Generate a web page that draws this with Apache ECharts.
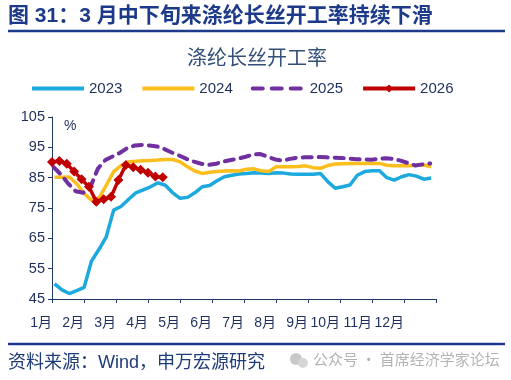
<!DOCTYPE html>
<html>
<head>
<meta charset="utf-8">
<script src="https://cdn.jsdelivr.net/npm/echarts@6/dist/echarts.min.js"></script>
<style>
html,body{margin:0;padding:0;background:#fff;}
#c{width:511px;height:380px;}
</style>
</head>
<body>
<div id="c"></div>
<script>
const monthLabels = ['1月','2月','3月','4月','5月','6月','7月','8月','9月','10月','11月','12月'];
const seriesNames = ['2023','2024','2025','2026'];
const v2023 = [50,48,46.8,47.8,48.8,57.5,61.3,65.5,74.3,75.5,77.8,80,81,82,83.3,82.5,80,78.2,78.5,80,82,82.4,84,85.3,85.8,86.2,86.4,86.6,86.5,86.4,86.6,86.5,86.2,86.1,86.1,86.1,86.4,83.7,81.5,82,82.6,85.8,87,87.3,87.3,85,84.2,85.3,86,85.5,84.5,84.9];
const v2024 = [85.1,85.1,85.2,83,79.8,77.6,78.2,82.5,87,89,90.2,90.4,90.6,90.7,90.8,91,91,90.2,88.6,87.2,86.4,86.8,87,87.2,87.3,87.2,87.8,87.9,87.3,87,88.6,88.6,88.6,88.7,88.9,88.3,88.1,89,89.5,89.6,89.7,89.7,89.7,89.7,89.7,89.1,88.9,88.9,88.9,89.1,89.2,88.6];
const v2025 = [88.5,86,83,80.5,80,82,88,90.8,92,93.2,94.8,95.6,95.8,95.6,95.3,94.4,93.3,92.3,91.2,90.3,89.6,89.2,89.6,90.3,90.8,91.3,91.9,92.6,92.8,91.9,91,90.6,91.2,91.6,91.7,91.7,91.8,91.7,91.6,91.5,91.3,91.1,91,90.9,91.2,91.4,91.2,90.6,89.8,89,89.4,89.7];
const v2026 = [90.2,90.5,89.6,87,84.5,82,77.1,77.9,78.7,84.2,89.2,88.4,87.6,86.6,85.4,85.1];

// week index -> position on a 12-month axis
const WEEK = 12 / 52;
function toPoints(vals, start) {
  return vals.map((v, i) => [start + i * WEEK, v]);
}

const navy = '#1F3864';
const txt = '#1F2F5C';
const fam = '"Liberation Sans", Arial, "Noto Sans CJK SC", sans-serif';
const colors = { '2023': '#1BA9DE', '2024': '#FBBE1C', '2025': '#7030A0', '2026': '#C00000' };

const chart = echarts.init(document.getElementById('c'));
chart.setOption({
  animation: false,
  title: {
    text: '涤纶长丝开工率',
    left: 182, top: 42,
    textStyle: { fontSize: 20, fontWeight: 'normal', color: '#34507A', fontFamily: '"Noto Sans CJK SC", sans-serif' }
  },
  legend: {
    left: 30, top: 81, padding: 0,
    itemWidth: 52, itemHeight: 10, itemGap: 18,
    textStyle: { fontSize: 15, color: txt, fontFamily: fam },
    data: [
      { name: '2023', itemStyle: { opacity: 0 }, lineStyle: { width: 4 } },
      { name: '2024', itemStyle: { opacity: 0 }, lineStyle: { width: 4 } },
      { name: '2025', itemStyle: { opacity: 0 }, lineStyle: { width: 4, type: [10, 9], cap: 'round' } },
      { name: '2026', lineStyle: { width: 4 } }
    ]
  },
  grid: { left: 52, right: 75, top: 117, bottom: 81 },
  xAxis: {
    type: 'value', min: 0, max: 12, interval: 1,
    axisLine: { show: true, lineStyle: { color: navy, width: 1 } },
    axisTick: { show: true, length: 4, lineStyle: { color: navy } },
    splitLine: { show: false },
    axisLabel: {
      margin: 17, align: 'right', fontSize: 14, color: txt, fontFamily: fam,
      formatter: v => (v < 12 ? monthLabels[v] : '')
    }
  },
  yAxis: {
    type: 'value', min: 45, max: 105, interval: 10,
    axisLine: { show: true, lineStyle: { color: navy, width: 1 } },
    axisTick: { show: true, length: 4, lineStyle: { color: navy } },
    splitLine: { show: false },
    axisLabel: { margin: 7, fontSize: 14.5, color: txt, fontFamily: fam }
  },
  series: [
    { name: '2023', type: 'line', data: toPoints(v2023, 0.08), symbol: 'none',
      lineStyle: { color: colors['2023'], width: 3.5 }, itemStyle: { color: colors['2023'] } },
    { name: '2024', type: 'line', data: toPoints(v2024, 0.08), symbol: 'none',
      lineStyle: { color: colors['2024'], width: 3.5 }, itemStyle: { color: colors['2024'] } },
    { name: '2025', type: 'line', data: toPoints(v2025, 0.05), symbol: 'none',
      lineStyle: { color: colors['2025'], width: 4, type: [9, 7], cap: 'round' }, itemStyle: { color: colors['2025'] } },
    { name: '2026', type: 'line', data: toPoints(v2026, 0.0), symbol: 'diamond', symbolSize: 10,
      lineStyle: { color: colors['2026'], width: 3.5 }, itemStyle: { color: colors['2026'] }, z: 5 }
  ],
  graphic: [
    { type: 'text', left: 8, top: 6, style: { text: '图 31：3 月中下旬来涤纶长丝开工率持续下滑', fill: '#1D3A8A',
      font: 'bold 21px "Liberation Sans", "Noto Sans CJK SC", sans-serif' } },
    { type: 'line', shape: { x1: 8, y1: 31, x2: 505, y2: 31 }, style: { stroke: '#1D3A8A', lineWidth: 2.5 } },
    { type: 'text', left: 64, top: 119, style: { text: '%', fill: txt, font: '14px "Liberation Sans", sans-serif' } },
    { type: 'line', shape: { x1: 8, y1: 344, x2: 505, y2: 344 }, style: { stroke: '#1D3A8A', lineWidth: 2.5 } },
    { type: 'text', left: 8, top: 354, style: { text: '资料来源：Wind，申万宏源研究', fill: '#1F3A78',
      font: '18px "Liberation Sans", "Noto Sans CJK SC", sans-serif' } },
    { type: 'circle', shape: { cx: 296, cy: 359, r: 6 }, style: { fill: '#c8c8c8' } },
    { type: 'circle', shape: { cx: 303, cy: 363, r: 5 }, style: { fill: '#d6d6d6' } },
    { type: 'text', left: 313, top: 352, style: { text: '公众号 · 首席经济学家论坛', fill: '#b4b4b4',
      font: '15px "Noto Sans CJK SC", sans-serif' } }
  ]
});
</script>
</body>
</html>
